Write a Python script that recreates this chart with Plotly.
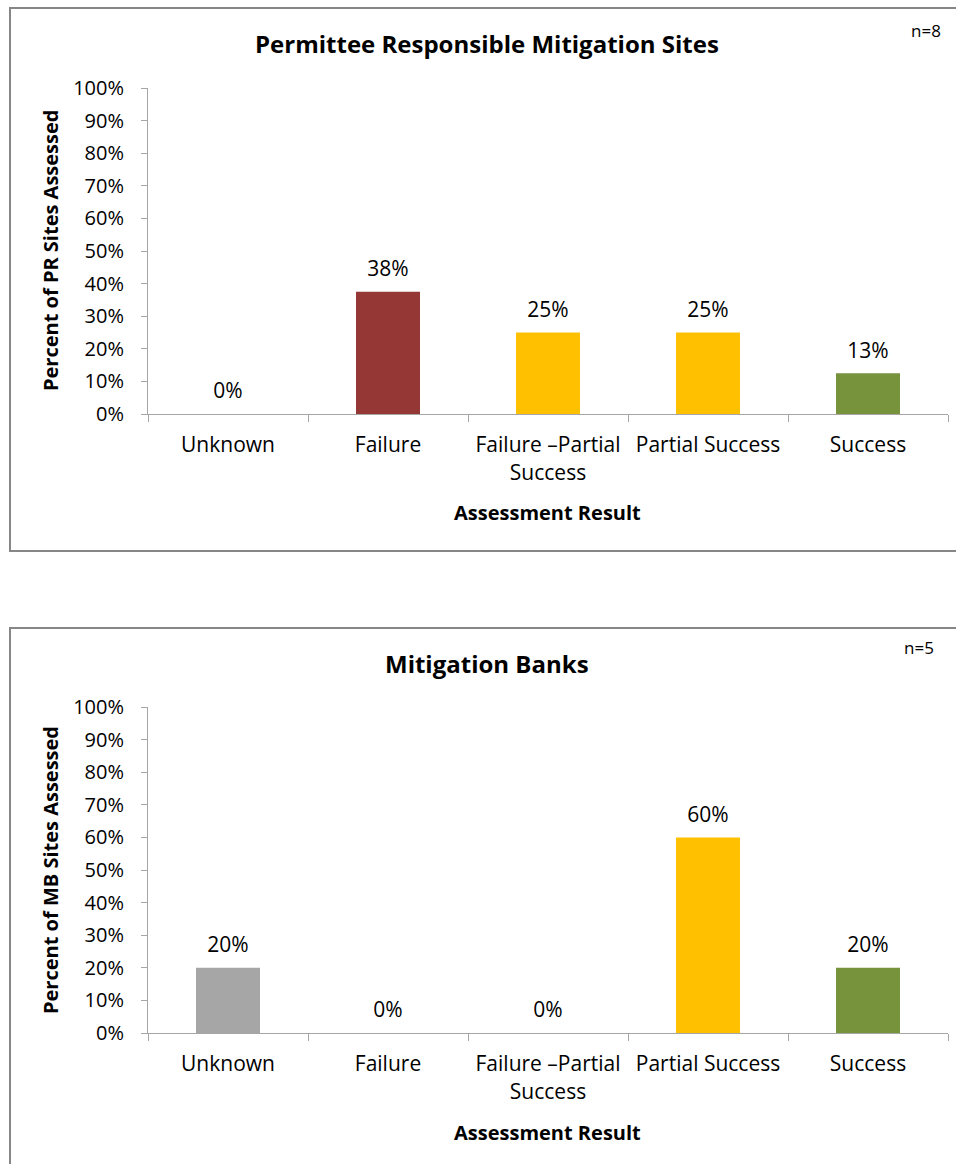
import plotly.graph_objects as go

categories = ["Unknown", "Failure", "Failure \u2013Partial<br>Success", "Partial Success", "Success"]
pr_values = [0.0, 0.375, 0.25, 0.25, 0.125]
pr_labels = ["0%", "38%", "25%", "25%", "13%"]
mb_values = [0.20, 0.0, 0.0, 0.60, 0.20]
mb_labels = ["20%", "0%", "0%", "60%", "20%"]
bar_colors = ["#A6A6A6", "#953735", "#FFC000", "#FFC000", "#77933C"]
y_ticks = [i / 10 for i in range(11)]
y_tick_text = [f"{i * 10}%" for i in range(11)]

W, H = 956, 1164
FONT = "'Open Sans', 'Noto Sans', sans-serif"
AXC = "#A6A6A6"


def px(x):
    return x / W


def py(y):
    return 1 - y / H


fig = go.Figure()

for vals, labs, xa, ya in [(pr_values, pr_labels, "x", "y"), (mb_values, mb_labels, "x2", "y2")]:
    fig.add_trace(go.Bar(x=categories, y=vals, marker=dict(color=bar_colors, line=dict(width=0)),
                         width=0.4, xaxis=xa, yaxis=ya, showlegend=False, hoverinfo="skip"))
    fig.add_trace(go.Scatter(x=categories, y=vals, mode="markers+text", text=labs,
                             textposition="top center",
                             marker=dict(size=15, opacity=0),
                             textfont=dict(size=21, color="#000000", family=FONT),
                             xaxis=xa, yaxis=ya, showlegend=False, cliponaxis=False, hoverinfo="skip"))

xdom = [px(148), px(948)]
common_x = dict(type="category", range=[-0.5, 4.5], showline=True, linecolor=AXC, linewidth=1,
                ticks="outside", tickson="boundaries", ticklen=7, tickcolor=AXC, showgrid=False,
                tickfont=dict(size=21, family=FONT, color="#000000"), ticklabelstandoff=12,
                automargin=False, fixedrange=True)
common_y = dict(range=[0, 1], tickvals=y_ticks, ticktext=y_tick_text, showline=True, linecolor=AXC,
                linewidth=1, ticks="outside", ticklen=6, tickcolor=AXC, showgrid=False, zeroline=False,
                tickfont=dict(size=20, family=FONT, color="#000000"), ticklabelstandoff=13,
                automargin=False, fixedrange=True)

fig.update_layout(
    width=W, height=H, margin=dict(l=0, r=0, t=0, b=0, pad=0, autoexpand=False),
    paper_bgcolor="white", plot_bgcolor="white", showlegend=False,
    xaxis=dict(domain=xdom, anchor="y", **common_x),
    yaxis=dict(domain=[py(414), py(88)], anchor="x", **common_y),
    xaxis2=dict(domain=xdom, anchor="y2", **common_x),
    yaxis2=dict(domain=[py(1033), py(707)], anchor="x2", **common_y),
)

shapes = [
    dict(type="rect", xref="paper", yref="paper", x0=px(10), x1=px(975), y0=py(551), y1=py(8),
         line=dict(color="#868686", width=2), fillcolor="rgba(0,0,0,0)", layer="below"),
    dict(type="rect", xref="paper", yref="paper", x0=px(10), x1=px(975), y0=py(1180), y1=py(628),
         line=dict(color="#868686", width=2), fillcolor="rgba(0,0,0,0)", layer="below"),
]
fig.update_layout(shapes=shapes)


def ann(text, x, y, size, bold=False, angle=0):
    t = f"<b>{text}</b>" if bold else text
    return dict(text=t, x=px(x), y=py(y), xref="paper", yref="paper", showarrow=False,
                xanchor="center", yanchor="middle", textangle=angle,
                font=dict(size=size, family=FONT, color="#000000"))


annotations = [
    ann("Permittee Responsible Mitigation Sites", 487, 44, 24, bold=True),
    ann("n=8", 926, 30, 17),
    ann("Assessment Result", 547, 512, 20, bold=True),
    ann("Percent of PR Sites Assessed", 50, 251, 20, bold=True, angle=-90),
    ann("Mitigation Banks", 487, 663, 24, bold=True),
    ann("n=5", 919, 647, 17),
    ann("Assessment Result", 547, 1132, 20, bold=True),
    ann("Percent of MB Sites Assessed", 50, 870, 20, bold=True, angle=-90),
]
fig.update_layout(annotations=annotations)

fig.write_html("out.html", config={"displayModeBar": False, "staticPlot": True},
               post_script="document.body.style.margin='0';document.body.style.overflow='hidden';")
